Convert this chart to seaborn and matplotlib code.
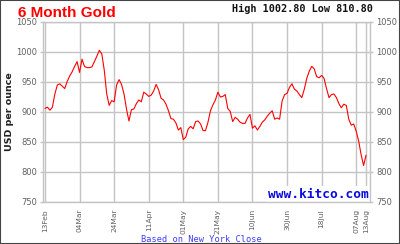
import matplotlib
matplotlib.use("Agg")
import matplotlib.pyplot as plt
import seaborn as sns
import pandas as pd
from matplotlib.patches import Rectangle

# ---- data (NY close, USD per ounce, one value per trading day) ----
prices = [
    906, 908, 903, 908, 930, 945, 947, 943, 939, 951,
    960, 967, 976, 984, 966, 988, 976, 974, 974, 975,
    984, 993, 1002.8, 997, 970, 930, 911, 919, 917, 945,
    954, 946, 930, 905, 885, 904, 905, 914, 920, 917,
    933, 930, 926, 928, 935, 946, 937, 923, 920, 913,
    902, 889, 888, 882, 870, 874, 854, 858, 872, 876,
    872, 884, 885, 880, 869, 869, 883, 902, 912, 920,
    933, 925, 926, 929, 906, 901, 884, 891, 888, 883,
    881, 881, 890, 896, 873, 877, 870, 876, 883, 887,
    893, 898, 902, 888, 890, 888, 918, 929, 931, 941,
    947, 938, 935, 929, 924, 938, 956, 968, 976, 972,
    959, 957, 961, 956, 939, 924, 929, 930, 924, 914,
    907, 913, 911, 888, 878, 880, 868, 852, 829, 810.8,
    828,
]
tick_days = [0, 14, 28, 42, 56, 70, 84, 98, 112, 126, 130]
tick_labels = ["13Feb", "04Mar", "24Mar", "11Apr", "01May", "21May",
               "10Jun", "30Jun", "18Jul", "07Aug", "13Aug"]
y_ticks = [750, 800, 850, 900, 950, 1000, 1050]
title = "6 Month Gold"
high_low = "High 1002.80 Low 810.80"

df = pd.DataFrame({"day": range(len(prices)), "price": prices})

sns.set_style("white")
plt.rcParams["font.family"] = ["DejaVu Sans"]

fig = plt.figure(figsize=(4, 2.44), dpi=100)
fig.patch.set_facecolor("white")
ax = fig.add_axes([43 / 400, 1 - 202 / 244, 327 / 400, 180 / 244])

sns.lineplot(data=df, x="day", y="price", ax=ax, color="#ff0000",
             linewidth=0.8, zorder=3)

grid_c = "#c4c4c4"
ax.set_xlim(-0.8, 131.6)
ax.set_ylim(750, 1050)
ax.set_xticks(tick_days)
ax.set_xticklabels(tick_labels, rotation=90)
ax.set_yticks(y_ticks)
ax.set_yticklabels([str(v) for v in y_ticks])
ax.grid(True, color=grid_c, linewidth=1.0)
ax.set_axisbelow(True)
for s in ax.spines.values():
    s.set_color(grid_c)
    s.set_linewidth(1.0)
ax.tick_params(axis="both", which="both", length=2.5, width=1.0,
               color=grid_c, labelsize=6, labelcolor="#606060", pad=2)
ax.tick_params(axis="y", left=True, right=True, labelleft=True,
               labelright=True)
ax.tick_params(axis="x", bottom=False, pad=2.5, labelsize=5.4)
ax.set_xlabel("")
ax.set_ylabel("")

ax.text(131.0, 752, "www.kitco.com", ha="right", va="bottom",
        family="DejaVu Sans Mono", fontweight="bold", fontsize=9.3,
        color="#0a0ae0", zorder=2.2,
        bbox=dict(facecolor="white", edgecolor="none", pad=1.0))

fig.text(18 / 400, 1 - 17 / 244, title, ha="left", va="baseline",
         family="Liberation Sans", fontweight="bold", fontsize=11,
         color="#ff0000")
fig.text(373 / 400, 1 - 12 / 244, high_low, ha="right", va="baseline",
         family="DejaVu Sans Mono", fontweight="bold", fontsize=7.3,
         color="#111111")
fig.text(10 / 400, 1 - 112 / 244, "USD per ounce", ha="center",
         va="center", rotation=90, family="DejaVu Sans",
         fontweight="bold", fontsize=6.8, color="#222222")
fig.text(201 / 400, 1 - 242 / 244, "Based on New York Close", ha="center",
         va="baseline", family="DejaVu Sans Mono", fontsize=6.2,
         color="#3c3cff")

fig.add_artist(Rectangle((0, 0), 1, 1, transform=fig.transFigure,
                         fill=False, edgecolor="#444444", linewidth=1.5))

fig.savefig("out.png", dpi=100, facecolor="white")
